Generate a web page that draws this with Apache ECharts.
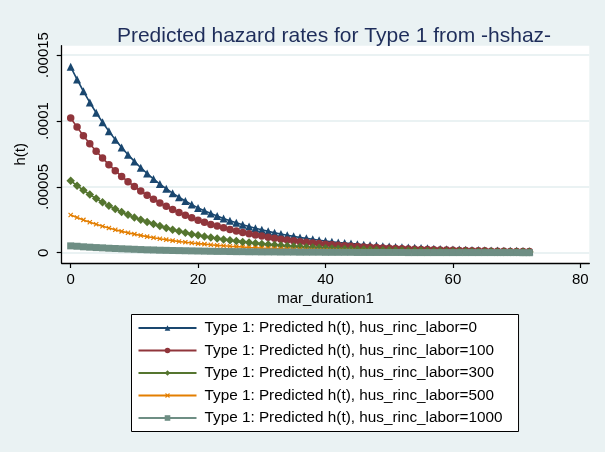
<!DOCTYPE html>
<html>
<head>
<meta charset="utf-8">
<script src="https://cdn.jsdelivr.net/npm/echarts@6/dist/echarts.min.js"></script>
<style>
html,body{margin:0;padding:0;background:#eaf2f3;}
#chart{width:605px;height:452px;}
</style>
</head>
<body>
<div id="chart"></div>
<script>
// mar_duration1 values (x)
const durations = [0,1,2,3,4,5,6,7,8,9,10,11,12,13,14,15,16,17,18,19,20,21,22,23,24,25,26,27,28,29,30,31,32,33,34,35,36,37,38,39,40,41,42,43,44,45,46,47,48,49,50,51,52,53,54,55,56,57,58,59,60,61,62,63,64,65,66,67,68,69,70,71,72];

// Predicted h(t), in units of 0.0001
const hazard_inc0 = [1.410,1.315,1.225,1.140,1.062,0.990,0.922,0.858,0.799,0.744,0.693,0.645,0.601,0.560,0.521,0.486,0.452,0.421,0.392,0.365,0.340,0.318,0.297,0.278,0.260,0.243,0.227,0.212,0.199,0.186,0.174,0.162,0.152,0.142,0.133,0.124,0.116,0.109,0.102,0.095,0.089,0.083,0.078,0.073,0.069,0.065,0.061,0.057,0.054,0.050,0.047,0.044,0.042,0.039,0.037,0.035,0.033,0.031,0.029,0.027,0.025,0.024,0.022,0.021,0.020,0.019,0.017,0.016,0.015,0.014,0.014,0.013,0.012];
const hazard_inc100 = [1.022,0.953,0.888,0.827,0.770,0.718,0.668,0.622,0.579,0.539,0.502,0.468,0.436,0.406,0.378,0.352,0.328,0.305,0.284,0.265,0.247,0.231,0.215,0.202,0.189,0.176,0.165,0.154,0.144,0.135,0.126,0.117,0.110,0.103,0.096,0.090,0.084,0.079,0.074,0.069,0.065,0.060,0.057,0.053,0.050,0.047,0.044,0.041,0.039,0.036,0.034,0.032,0.030,0.028,0.027,0.025,0.024,0.022,0.021,0.020,0.018,0.017,0.016,0.015,0.015,0.014,0.012,0.012,0.011,0.010,0.010,0.009,0.009];
const hazard_inc300 = [0.546,0.509,0.474,0.441,0.411,0.383,0.357,0.332,0.309,0.288,0.268,0.250,0.233,0.217,0.202,0.188,0.175,0.163,0.152,0.141,0.132,0.123,0.115,0.108,0.101,0.094,0.088,0.082,0.077,0.072,0.067,0.063,0.059,0.055,0.051,0.048,0.045,0.042,0.039,0.037,0.034,0.032,0.030,0.028,0.027,0.025,0.024,0.022,0.021,0.019,0.018,0.017,0.016,0.015,0.014,0.014,0.013,0.012,0.011,0.010,0.010,0.009,0.009,0.008,0.008,0.007,0.007,0.006,0.006,0.005,0.005,0.005,0.005];
const hazard_inc500 = [0.286,0.267,0.249,0.231,0.216,0.201,0.187,0.174,0.162,0.151,0.141,0.131,0.122,0.114,0.106,0.099,0.092,0.085,0.080,0.074,0.069,0.065,0.060,0.056,0.053,0.049,0.046,0.043,0.040,0.038,0.035,0.033,0.031,0.029,0.027,0.025,0.024,0.022,0.021,0.019,0.018,0.017,0.016,0.015,0.014,0.013,0.012,0.012,0.011,0.010,0.010,0.009,0.009,0.008,0.008,0.007,0.007,0.006,0.006,0.005,0.005,0.005,0.004,0.004,0.004,0.004,0.003,0.003,0.003,0.003,0.003,0.003,0.002];
const hazard_inc1000 = [0.052,0.049,0.045,0.042,0.039,0.037,0.034,0.032,0.030,0.028,0.026,0.024,0.022,0.021,0.019,0.018,0.017,0.016,0.015,0.014,0.013,0.012,0.011,0.010,0.010,0.009,0.008,0.008,0.007,0.007,0.006,0.006,0.006,0.005,0.005,0.005,0.004,0.004,0.004,0.004,0.003,0.003,0.003,0.003,0.003,0.002,0.002,0.002,0.002,0.002,0.002,0.002,0.002,0.001,0.001,0.001,0.001,0.001,0.001,0.001,0.001,0.001,0.001,0.001,0.001,0.001,0.001,0.001,0.001,0.001,0.001,0.000,0.000];

const seriesNames = [
  'Type 1: Predicted h(t), hus_rinc_labor=0',
  'Type 1: Predicted h(t), hus_rinc_labor=100',
  'Type 1: Predicted h(t), hus_rinc_labor=300',
  'Type 1: Predicted h(t), hus_rinc_labor=500',
  'Type 1: Predicted h(t), hus_rinc_labor=1000'
];

const xTickValues = [0, 20, 40, 60, 80];
const yTickValues = [0, 0.5, 1, 1.5];
const yTickLabels = ['0', '.00005', '.0001', '.00015'];

const colors = ['#1a476f', '#90353b', '#55752f', '#e37e00', '#6e8e84'];
const symbols = ['triangle', 'circle', 'diamond',
  'path://M4,0H6V4H10V6H6V10H4V6H0V4H4Z', 'rect'];
const symbolSizes = [8, 7.5, 8.5, 6, 7];
const symbolRotates = [0, 0, 0, 45, 0];
const allValues = [hazard_inc0, hazard_inc100, hazard_inc300, hazard_inc500, hazard_inc1000];

const FONT = '"Liberation Sans", Arial, sans-serif';

const series = allValues.map((vals, i) => ({
  name: seriesNames[i],
  type: 'line',
  data: durations.map((t, j) => [t, vals[j]]),
  symbol: symbols[i],
  symbolSize: symbolSizes[i],
  symbolRotate: symbolRotates[i],
  showAllSymbol: true,
  animation: false,
  lineStyle: { color: colors[i], width: 1.6 },
  itemStyle: { color: colors[i], borderWidth: 0 },
  emphasis: { disabled: true }
}));

const chart = echarts.init(document.getElementById('chart'), null, { renderer: 'canvas' });
chart.setOption({
  backgroundColor: '#eaf2f3',
  animation: false,
  color: colors,
  title: {
    text: 'Predicted hazard rates for Type 1 from -hshaz-',
    left: 329,
    top: 21,
    textAlign: 'center',
    textStyle: { fontFamily: FONT, fontSize: 21, fontWeight: 'normal', color: '#1e2d5a' }
  },
  grid: {
    left: 61.7, right: 15.7, top: 45.7, bottom: 189,
    show: true, backgroundColor: '#ffffff', borderWidth: 0
  },
  xAxis: {
    type: 'value',
    min: -1.41, max: 81.41,
    name: 'mar_duration1',
    nameLocation: 'middle',
    nameGap: 28,
    nameTextStyle: { fontFamily: FONT, fontSize: 15, color: '#000' },
    axisLine: { show: true, onZero: false, lineStyle: { color: '#000', width: 1.3 } },
    axisTick: { show: true, length: 5, customValues: xTickValues, lineStyle: { color: '#000', width: 1.2 } },
    axisLabel: { customValues: xTickValues, margin: 9, fontFamily: FONT, fontSize: 15, color: '#000' },
    splitLine: { show: false }
  },
  yAxis: {
    type: 'value',
    min: -0.078, max: 1.5706,
    name: 'h(t)',
    nameLocation: 'middle',
    nameGap: 27,
    nameRotate: 90,
    nameTextStyle: { fontFamily: FONT, fontSize: 15, color: '#000' },
    axisLine: { show: true, onZero: false, lineStyle: { color: '#000', width: 1.3 } },
    axisTick: { show: true, length: 5, customValues: yTickValues, lineStyle: { color: '#000', width: 1.2 } },
    axisLabel: {
      customValues: yTickValues, rotate: 90, margin: 10,
      fontFamily: FONT, fontSize: 15, color: '#000',
      formatter: (v) => { const k = yTickValues.findIndex(x => Math.abs(x - v) < 1e-9); return k >= 0 ? yTickLabels[k] : ''; }
    },
    splitLine: { show: true, lineStyle: { color: '#eaf2f3', width: 2 } }
  },
  legend: {
    data: seriesNames,
    orient: 'vertical',
    left: 131.5,
    top: 314.5,
    padding: [6, 16, 6, 6],
    itemWidth: 58,
    itemHeight: 7,
    itemGap: 7.5,
    borderColor: '#000',
    borderWidth: 1,
    backgroundColor: '#ffffff',
    borderRadius: 0,
    selectedMode: false,
    textStyle: { fontFamily: FONT, fontSize: 15.3, color: '#000', lineHeight: 14, padding: [0, 0, 0, 3] }
  },
  series: series
});
</script>
</body>
</html>
